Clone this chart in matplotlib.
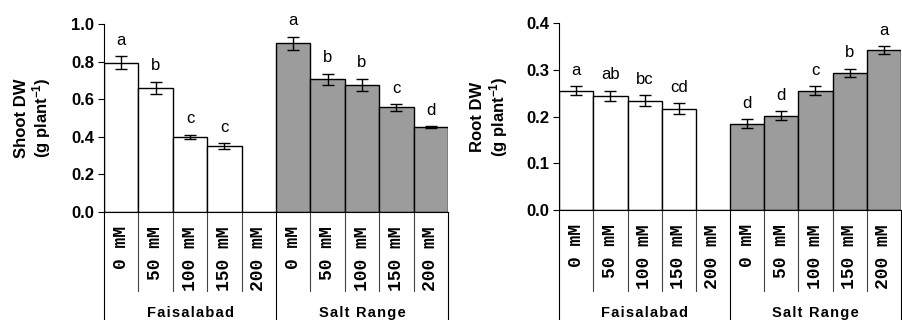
import matplotlib
matplotlib.use('Agg')
import matplotlib.pyplot as plt
import matplotlib.transforms as mtransforms

plt.rcParams['font.family'] = 'Liberation Sans'
plt.rcParams['mathtext.fontset'] = 'custom'
plt.rcParams['mathtext.bf'] = 'Liberation Sans:bold'
plt.rcParams['mathtext.rm'] = 'Liberation Sans:bold'
plt.rcParams['mathtext.default'] = 'bf'

# data
doses = ['0 mM', '50 mM', '100 mM', '150 mM', '200 mM']
sites = ['Faisalabad', 'Salt Range']

shoot_fsd = [0.794, 0.661, 0.400, 0.349, 0.0]
shoot_fsd_err = [0.035, 0.033, 0.012, 0.016, 0.0]
shoot_sr = [0.897, 0.706, 0.677, 0.557, 0.452]
shoot_sr_err = [0.035, 0.030, 0.032, 0.018, 0.006]
shoot_letters = ['a', 'b', 'c', 'c', '', 'a', 'b', 'b', 'c', 'd']

root_fsd = [0.255, 0.244, 0.234, 0.217, 0.0]
root_fsd_err = [0.010, 0.011, 0.012, 0.012, 0.0]
root_sr = [0.185, 0.202, 0.255, 0.293, 0.342]
root_sr_err = [0.009, 0.009, 0.010, 0.009, 0.008]
root_letters = ['a', 'ab', 'bc', 'cd', '', 'd', 'd', 'c', 'b', 'a']


def panel(fig, rect, fsd, fsd_err, sr, sr_err, letters, ymax, yticks, ylabel, label_x):
    ax = fig.add_axes(rect)
    vals = fsd + sr
    errs = fsd_err + sr_err
    x = list(range(len(vals)))
    colors = ['white'] * len(fsd) + ['#9c9c9c'] * len(sr)
    ax.bar(x, vals, width=1.0, color=colors, edgecolor='black', linewidth=1.0, zorder=2)
    for i in x:
        if errs[i] > 0:
            ax.errorbar(i, vals[i], yerr=errs[i], color='black', capsize=4.5,
                        elinewidth=1.0, capthick=1.0, zorder=3)
        if letters[i]:
            ax.annotate(letters[i], (i, vals[i] + errs[i]), xytext=(0, 6),
                        textcoords='offset points', ha='center', va='bottom',
                        fontsize=12)
    ax.set_xlim(-0.5, len(vals) - 0.5)
    ax.set_ylim(0, ymax)
    ax.set_yticks(yticks)
    ax.set_yticklabels(['%.1f' % t for t in yticks], fontweight='bold', fontsize=12)
    ax.tick_params(axis='y', length=4, width=0.8, pad=3)
    ax.set_xticks([])
    for s in ['top', 'right']:
        ax.spines[s].set_visible(False)
    ax.spines['left'].set_linewidth(0.8)
    ax.spines['bottom'].set_linewidth(0.8)

    # category table below the axis
    tr = mtransforms.blended_transform_factory(ax.transData, fig.transFigure)
    y0 = rect[1]
    ax.plot([-0.5, -0.5], [0, y0], color='black', lw=0.8, transform=tr, clip_on=False)
    for k in range(1, len(vals) + 1):
        xs = k - 0.5
        bottom = 0 if k in (len(fsd), len(vals)) else 0.09
        col = 'black' if bottom == 0 else '#444444'
        ax.plot([xs, xs], [bottom, y0], color=col, lw=0.8, transform=tr, clip_on=False)
    for i in x:
        ax.text(i, y0 - 0.044, doses[i % len(doses)], transform=tr, rotation=90,
                ha='center', va='top', fontsize=13, fontweight='bold',
                family='Liberation Mono')
    for g, name in enumerate(sites):
        ax.text(g * len(fsd) + (len(fsd) - 1) / 2, 0.022, '\u200a'.join(name), transform=tr,
                ha='center', va='center', fontsize=10.5, fontweight='bold')
    fig.text(label_x, rect[1] + rect[3] / 2, ylabel, rotation=90, ha='center',
             va='center', fontsize=12, fontweight='bold', linespacing=1.1)
    return ax


fig = plt.figure(figsize=(9.02, 3.2), dpi=100)
panel(fig, [0.1153, 0.3375, 0.3814, 0.5875], shoot_fsd, shoot_fsd_err, shoot_sr, shoot_sr_err,
      shoot_letters, 1.0, [0.0, 0.2, 0.4, 0.6, 0.8, 1.0], 'Shoot DW\n(g plant$^{-1}$)', 0.037)
panel(fig, [0.6200, 0.3428, 0.3788, 0.5862], root_fsd, root_fsd_err, root_sr, root_sr_err,
      root_letters, 0.4, [0.0, 0.1, 0.2, 0.3, 0.4], 'Root DW\n(g plant$^{-1}$)', 0.543)
fig.savefig('out.png', dpi=100)
